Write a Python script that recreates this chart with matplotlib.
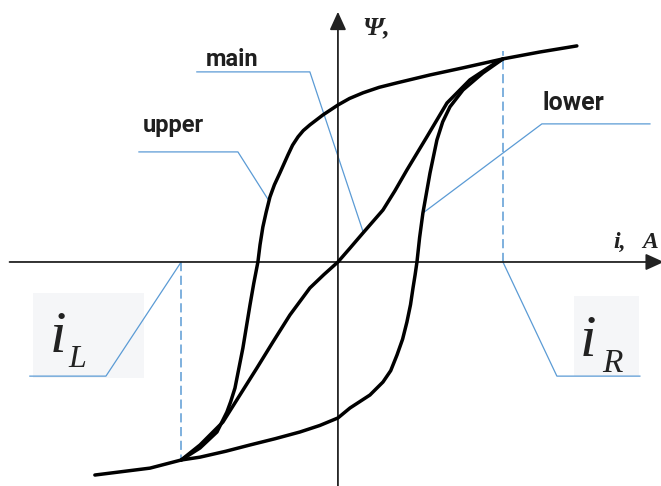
import matplotlib
matplotlib.use("Agg")
import matplotlib.pyplot as plt
from matplotlib.patches import Rectangle

# flux linkage vs current, in units where the loop tips sit at i = ±10
I_R, PSI_R = 10.0, 10.0
I_L, PSI_L = -9.5, -9.75

# descending (upper) branch, from the right saturation tail to the left one
upper_i = [14.48, 12.24, 10.0, 7.58, 5.58, 3.58, 2.5, 1.52, 0.7, 0.0, -0.91,
           -1.70, -2.10, -2.42, -2.75, -3.03, -3.52, -3.85, -4.12, -4.35,
           -4.55, -4.72, -4.85, -5.10, -5.33, -5.76, -6.24, -6.50, -6.73,
           -7.33, -8.36, -9.5, -11.39, -14.73]
upper_psi = [10.64, 10.34, 10.0, 9.56, 9.21, 8.82, 8.60, 8.33, 8.05, 7.73, 7.24,
             6.75, 6.47, 6.16, 5.75, 5.27, 4.38, 3.80, 3.20, 2.45,
             1.72, 0.85, 0.0, -1.05, -2.12, -4.24, -6.21, -6.88, -7.39,
             -8.37, -9.16, -9.75, -10.15, -10.49]

# ascending (lower) branch between the two tips
lower_i = [-9.5, -8.36, -6.8, -5.33, -3.8, -2.30, -1.1, 0.0, 0.73, 1.94,
           2.73, 3.2, 3.58, 3.92, 4.18, 4.40, 4.55, 4.68, 4.79, 4.95, 5.15,
           5.58, 6.0, 6.35, 6.79, 7.58, 8.79, 10.0]
lower_psi = [-9.75, -9.61, -9.32, -9.01, -8.70, -8.37, -8.05, -7.68, -7.19,
             -6.55, -5.91, -5.35, -4.58, -3.80, -2.96, -2.10, -1.28, -0.62,
             0.0, 1.20, 2.41, 4.38, 6.01, 6.90, 7.64, 8.47, 9.31, 10.0]

# main (initial magnetisation) curve through the origin
main_i = [-9.5, -8.36, -6.97, -5.94, -4.91, -3.94, -2.91, -1.70, -0.85, 0.0,
          0.75, 1.52, 2.73, 3.45, 4.18, 5.39, 6.61, 8.0, 9.64, 10.0]
main_psi = [-9.75, -9.01, -7.88, -6.55, -5.22, -3.94, -2.61, -1.28, -0.62, 0.0,
            0.70, 1.43, 2.56, 3.50, 4.53, 6.16, 7.83, 8.97, 9.85, 10.0]

CURVE = "black"
LEAD = "#5b9bd5"
TXT = "#1f1f1f"
BOX = "#f5f6f8"

fig = plt.figure(figsize=(6.61, 4.86), dpi=100, facecolor="white")
ax = fig.add_axes([0, 0, 1, 1])
ax.set_xlim(-20.48, 19.58)
ax.set_ylim(-11.03, 12.9)
ax.axis("off")

# coordinate axes with arrow heads
arrow = dict(arrowstyle="-|>,head_length=0.55,head_width=0.25", color="#222222",
             lw=1.3, mutation_scale=20, shrinkA=0, shrinkB=0)
ax.annotate("", xy=(19.75, 0), xytext=(-19.9, 0), arrowprops=arrow,
            annotation_clip=False)
ax.annotate("", xy=(0, 12.32), xytext=(0, -11.2), arrowprops=arrow,
            annotation_clip=False)

# boxes behind the tip labels
ax.add_patch(Rectangle((-18.48, -5.71), 6.72, 4.18, color=BOX, lw=0, zorder=0))
ax.add_patch(Rectangle((14.30, -5.62), 3.94, 3.95, color=BOX, lw=0, zorder=0))

# loop branches
for xs, ys in [(upper_i, upper_psi), (lower_i, lower_psi), (main_i, main_psi)]:
    ax.plot(xs, ys, color=CURVE, lw=2.5, solid_joinstyle="round",
            solid_capstyle="round", zorder=3)

# projections of the loop tips onto the current axis
ax.plot([I_L, I_L], [0, PSI_L], color=LEAD, lw=1.1, dashes=(6, 3), zorder=2)
ax.plot([I_R, I_R], [0, PSI_R + 0.39], color=LEAD, lw=1.1, dashes=(6, 3), zorder=2)

# leader lines
leaders = [
    [(-8.55, 9.36), (-1.70, 9.36), (1.52, 1.5)],        # main
    [(-12.06, 5.42), (-6.06, 5.42), (-4.25, 3.1)],      # upper
    [(18.91, 6.80), (12.36, 6.80), (5.15, 2.41)],       # lower
    [(-18.67, -5.62), (-14.06, -5.62), (I_L, 0)],       # i_L
    [(18.30, -5.62), (13.27, -5.62), (I_R, 0)],         # i_R
]
for pts in leaders:
    xs, ys = zip(*pts)
    ax.plot(xs, ys, color=LEAD, lw=0.9, zorder=2)

# curve names
lab = dict(family="Roboto", fontweight="bold", fontsize=17, color=TXT,
           va="baseline", ha="left")
ax.text(-8.0, 9.66, "main", **lab)
ax.text(-11.82, 6.40, "upper", **lab)
ax.text(12.42, 7.49, "lower", **{**lab, "fontsize": 18})

# axis names
serif = dict(family="Liberation Serif", style="italic", color="#222222",
             va="baseline", ha="left")
ax.text(1.45, 11.2, "Ψ,", fontsize=19, fontweight="bold", **serif)
ax.text(16.67, 0.69, "i,", fontsize=17, fontweight="bold", **serif)
ax.text(18.42, 0.69, "A", fontsize=17, fontweight="bold", clip_on=False, **serif)

# tip current labels
ax.text(-17.45, -4.43, "i", fontsize=43, **serif)
ax.text(-16.36, -5.17, "L", fontsize=23, **serif)
ax.text(14.67, -4.63, "i", fontsize=43, **serif)
ax.text(16.0, -5.42, "R", fontsize=24, **serif)

fig.savefig("out.png", dpi=100, facecolor="white")
